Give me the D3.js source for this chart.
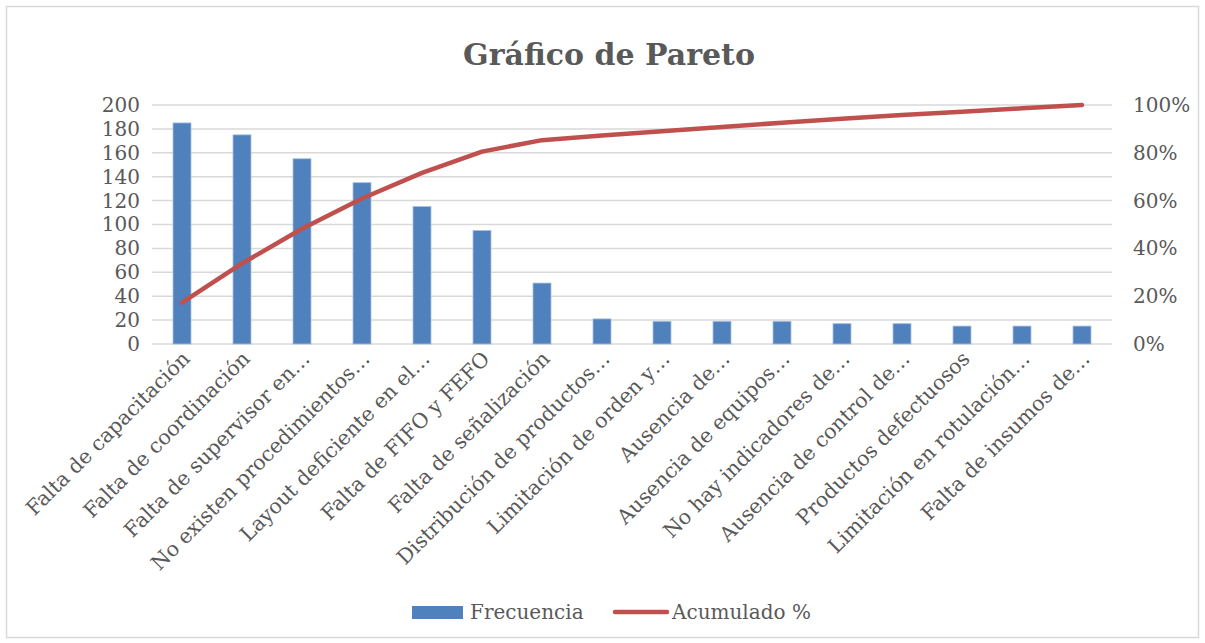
<!DOCTYPE html>
<html>
<head>
<meta charset="utf-8">
<script src="https://cdn.jsdelivr.net/npm/d3@7/dist/d3.min.js"></script>
<style>
  body { margin: 0; background: #fff; }
  text { font-family: "DejaVu Serif", serif; fill: #595959; }
</style>
</head>
<body>
<div id="chart"></div>
<script>
// categorias (etiquetas tal como aparecen, recortadas)
var categories = [
  "Falta de capacitación",
  "Falta de coordinación",
  "Falta de supervisor en…",
  "No existen procedimientos…",
  "Layout deficiente en el…",
  "Falta de FIFO y FEFO",
  "Falta de señalización",
  "Distribución de productos…",
  "Limitación de orden y…",
  "Ausencia de…",
  "Ausencia de equipos…",
  "No hay indicadores de…",
  "Ausencia de control de…",
  "Productos defectuosos",
  "Limitación en rotulación…",
  "Falta de insumos de…"
];
var frecuencia = [185, 175, 155, 135, 115, 95, 51, 21, 19, 19, 19, 17, 17, 15, 15, 15];
var acumulado = [0.173, 0.337, 0.482, 0.609, 0.716, 0.805, 0.853, 0.872, 0.890, 0.908, 0.926, 0.942, 0.958, 0.972, 0.986, 1.0];
var leftTicks = [0, 20, 40, 60, 80, 100, 120, 140, 160, 180, 200];
var rightTicks = [0, 0.2, 0.4, 0.6, 0.8, 1.0];

var width = 1205, height = 643;
var margin = {top: 105, right: 93, bottom: 299, left: 152};

var svg = d3.select("#chart").append("svg")
    .attr("width", width)
    .attr("height", height);

// marco
svg.append("rect")
    .attr("x", 6.5).attr("y", 6.5)
    .attr("width", width - 13).attr("height", height - 12)
    .attr("fill", "#fff")
    .attr("stroke", "#d9d9d9")
    .attr("stroke-width", 1.5);

svg.append("text")
    .attr("x", 609).attr("y", 65)
    .attr("text-anchor", "middle")
    .style("font-size", "30px")
    .style("font-weight", "bold")
    .text("Gráfico de Pareto");

var x = d3.scaleBand()
    .domain(categories)
    .range([margin.left, width - margin.right])
    .paddingInner(0.7)
    .paddingOuter(0.35);

var y = d3.scaleLinear()
    .domain([0, 200])
    .range([height - margin.bottom, margin.top]);

var y2 = d3.scaleLinear()
    .domain([0, 1])
    .range([height - margin.bottom, margin.top]);

// lineas de cuadricula
svg.append("g")
  .selectAll("line")
  .data(leftTicks)
  .enter().append("line")
    .attr("x1", margin.left)
    .attr("x2", width - margin.right)
    .attr("y1", function(d) { return y(d); })
    .attr("y2", function(d) { return y(d); })
    .attr("stroke", "#d9d9d9")
    .attr("stroke-width", 1.5);

// eje izquierdo
var gLeft = svg.append("g")
    .attr("transform", "translate(" + (margin.left - 12) + ",0)")
    .call(d3.axisLeft(y).tickValues(leftTicks).tickSize(0).tickPadding(0));
gLeft.select(".domain").remove();
gLeft.selectAll("text")
    .style("font-size", "20px")
    .attr("fill", "#595959")
    .attr("font-family", "DejaVu Serif");

// eje derecho
var gRight = svg.append("g")
    .attr("transform", "translate(" + (width - margin.right + 21) + ",0)")
    .call(d3.axisRight(y2).tickValues(rightTicks).tickFormat(d3.format(".0%")).tickSize(0).tickPadding(0));
gRight.select(".domain").remove();
gRight.selectAll("text")
    .style("font-size", "20px")
    .attr("fill", "#595959")
    .attr("font-family", "DejaVu Serif");

// barras
svg.append("g")
  .selectAll("rect")
  .data(frecuencia)
  .enter().append("rect")
    .attr("x", function(d, i) { return x(categories[i]); })
    .attr("y", function(d) { return y(d); })
    .attr("width", x.bandwidth())
    .attr("height", function(d) { return y(0) - y(d); })
    .attr("fill", "#4f81bd")
    .attr("stroke", "#a7c0de")
    .attr("stroke-width", 0.8);

// linea acumulada
var line = d3.line()
    .x(function(d, i) { return x(categories[i]) + x.bandwidth() / 2; })
    .y(function(d) { return y2(d); });

svg.append("path")
    .datum(acumulado)
    .attr("d", line)
    .attr("fill", "none")
    .attr("stroke", "#c0504d")
    .attr("stroke-width", 4.5)
    .attr("stroke-linejoin", "round")
    .attr("stroke-linecap", "round");

// etiquetas de categorias
svg.append("g")
  .selectAll("text")
  .data(categories)
  .enter().append("text")
    .attr("transform", function(d) {
      return "translate(" + (x(d) + x.bandwidth() / 2 + 9) + "," + (y(0) + 16) + ") rotate(-45)";
    })
    .attr("text-anchor", "end")
    .style("font-size", "20.5px")
    .text(function(d) { return d; });

// leyenda
var legend = svg.append("g");
legend.append("rect")
    .attr("x", 412).attr("y", 606)
    .attr("width", 51).attr("height", 13)
    .attr("fill", "#4f81bd");
legend.append("text")
    .attr("x", 470).attr("y", 619)
    .style("font-size", "20px")
    .text("Frecuencia");
legend.append("line")
    .attr("x1", 615).attr("x2", 667)
    .attr("y1", 612).attr("y2", 612)
    .attr("stroke", "#c0504d")
    .attr("stroke-width", 4.5)
    .attr("stroke-linecap", "round");
legend.append("text")
    .attr("x", 672).attr("y", 619)
    .style("font-size", "20px")
    .text("Acumulado %");
</script>
</body>
</html>
